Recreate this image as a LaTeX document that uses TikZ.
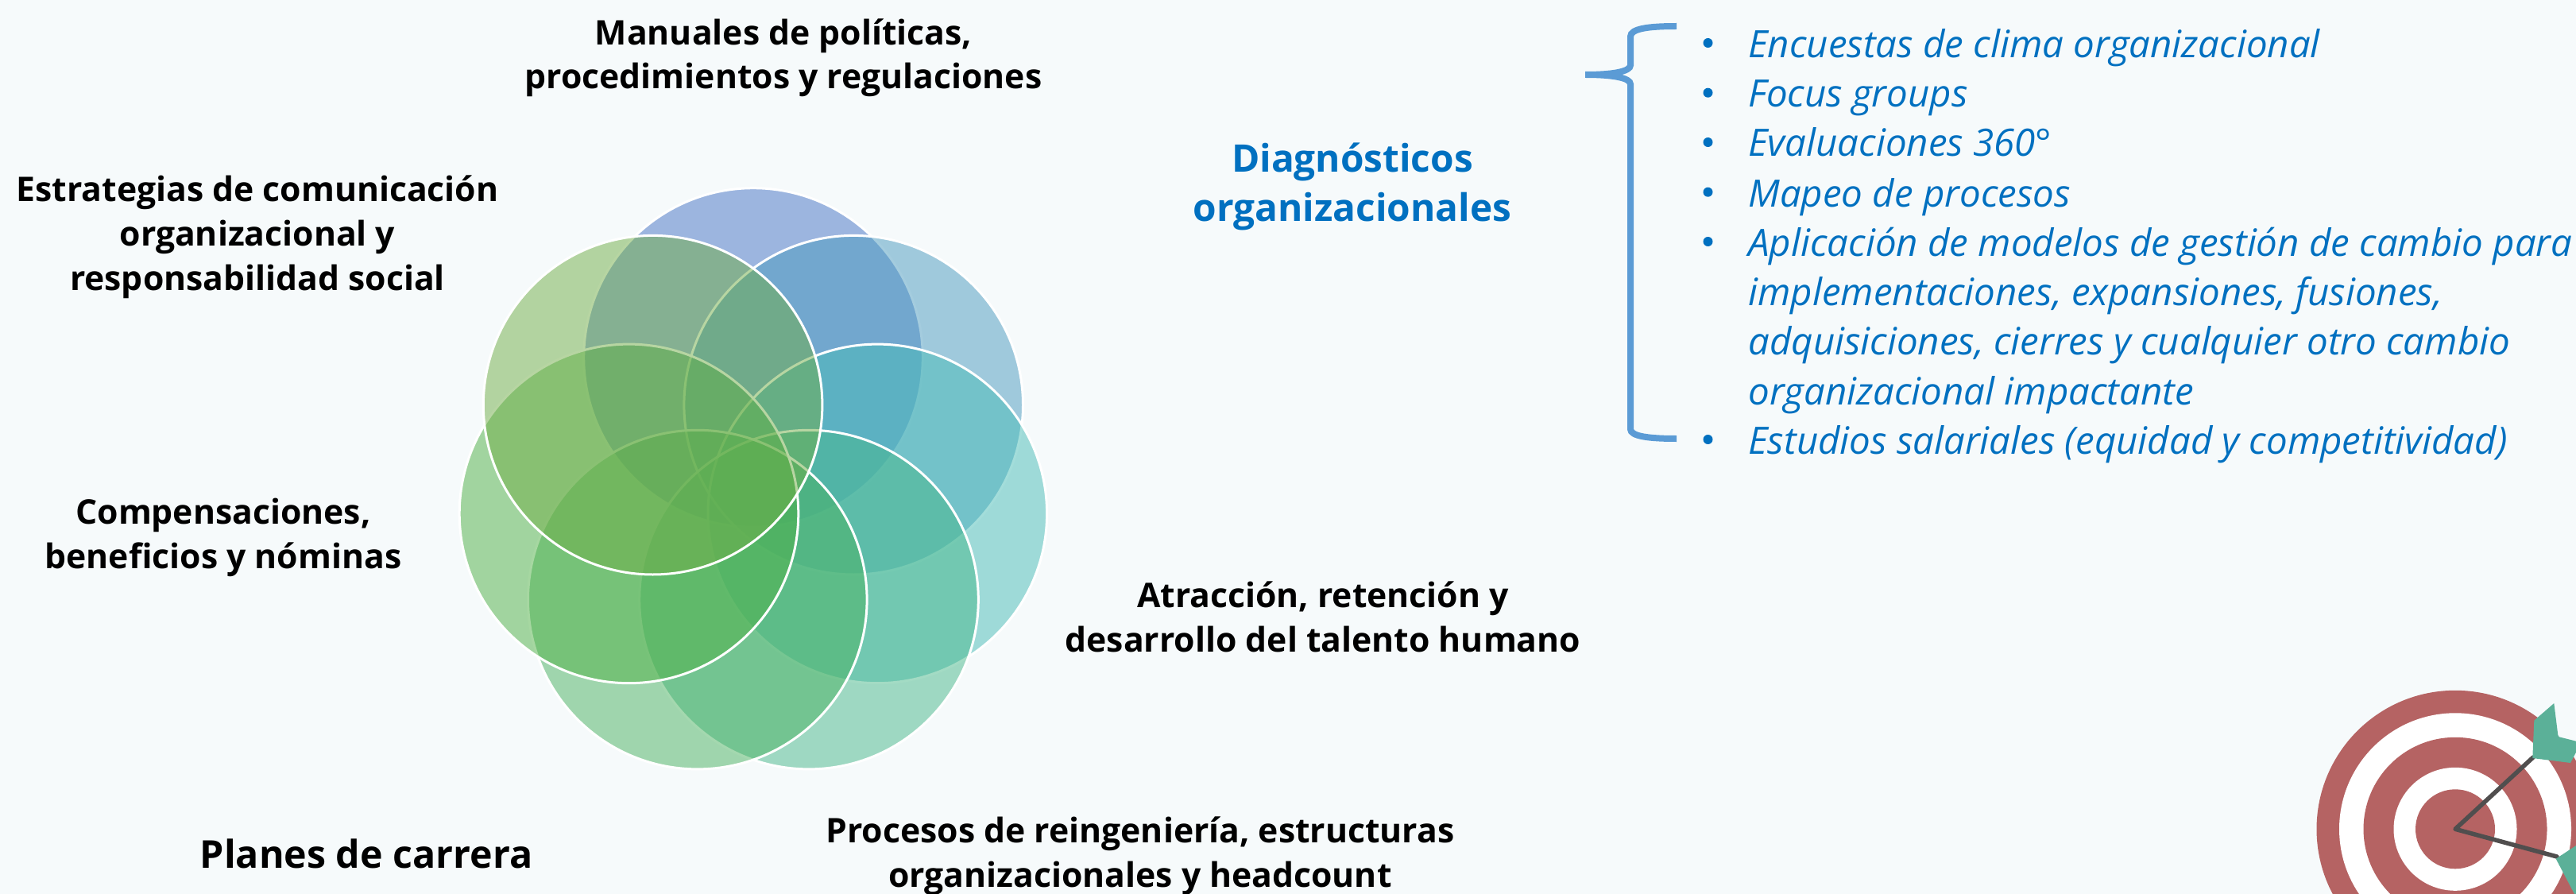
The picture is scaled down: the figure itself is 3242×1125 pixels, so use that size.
\documentclass[tikz,border=0pt]{standalone}
\usepackage{fontspec}
\setmainfont{Open Sans}
\definecolor{bgc}{HTML}{F6FAFB}
\definecolor{bluet}{HTML}{0070C0}
\definecolor{bracec}{HTML}{5B9BD5}
\definecolor{redt}{HTML}{B56363}
\definecolor{shaft}{HTML}{504E4E}
\definecolor{feather}{HTML}{5BB098}
\definecolor{ca}{HTML}{4472C4}
\definecolor{cb}{HTML}{4A9ABF}
\definecolor{cc}{HTML}{48BCB7}
\definecolor{cd}{HTML}{48B88B}
\definecolor{ce}{HTML}{4AB261}
\definecolor{cf}{HTML}{4EB045}
\definecolor{cg}{HTML}{70AD47}
\tikzset{
  x=0.02cm,y=-0.02cm,
  petal/.style={fill=#1,fill opacity=0.5,draw=white,draw opacity=1,line width=0.06cm},
  lab/.style={font=\fontsize{24.3}{31.7}\selectfont\bfseries,align=center,anchor=base,inner sep=0pt,text=black},
  diag/.style={font=\fontsize{27.2}{35.5}\selectfont\bfseries,align=center,anchor=base,inner sep=0pt,text=bluet},
  item/.style={font=\fontsize{27}{35.3}\selectfont\itshape,align=left,anchor=base west,inner sep=0pt,text=bluet},
  bul/.style={circle,fill=bluet,inner sep=0pt,minimum size=0.24cm},
}
\begin{document}
\begin{tikzpicture}
\useasboundingbox (0,0) rectangle (3242,1125);
\clip (0,0) rectangle (3242,1125);
\fill[bgc] (0,0) rectangle (3242,1125);
% circles
\path[petal=ca] (948,450) circle (213.3);
\path[petal=cb] (1074.2,509.7) circle (213.3);
\path[petal=cc] (1104.3,646.4) circle (213.3);
\path[petal=cd] (1018,754.6) circle (213.3);
\path[petal=ce] (877.8,754.6) circle (213.3);
\path[petal=cf] (791.5,646.4) circle (213.3);
\path[petal=cg] (821.6,509.7) circle (213.3);
% labels
\node[lab] (manuales) at (986,112) {Manuales de políticas,\\procedimientos y regulaciones};
\node[lab] (estrategias) at (324,365) {Estrategias de comunicación\\organizacional y\\responsabilidad social};
\node[lab] (compensaciones) at (281,715) {Compensaciones,\\beneficios y nóminas};
\node[lab] (atraccion) at (1665,820) {Atracción, retención y\\desarrollo del talento humano};
\node[lab] (procesos) at (1435,1116) {Procesos de reingeniería, estructuras\\organizacionales y headcount};
\node[lab,font=\fontsize{27.5}{31.7}\selectfont\bfseries] (planes) at (461,1092) {Planes de carrera};
\node[diag] (diagnosticos) at (1702,278.6) {Diagnósticos\\organizacionales};
% brace
\draw[bracec,line width=0.16cm] (2110,33) .. controls (2075,33) and (2052,36) .. (2052,46) -- (2052,82) .. controls (2052,90) and (2030,94) .. (1995,94) .. controls (2030,94) and (2052,98) .. (2052,106) -- (2052,540) .. controls (2052,549) and (2075,552) .. (2110,552);
% list
\node[item] (i1) at (2200,72.7) {Encuestas de clima organizacional};
\node[item] (i2) at (2200,135) {Focus groups};
\node[item] (i3) at (2200,197) {Evaluaciones 360°};
\node[item] (i4) at (2200,260) {Mapeo de procesos};
\node[item] (i5) at (2200,509) {Aplicación de modelos de gestión de cambio para\\implementaciones, expansiones, fusiones,\\adquisiciones, cierres y cualquier otro cambio\\organizacional impactante};
\node[item] (i6) at (2200,571.7) {Estudios salariales (equidad y competitividad)};
\foreach \yy/\nm in {54/b1,116.7/b2,179/b3,241.7/b4,304/b5,553/b6}{
  \node[bul] (\nm) at (2149.5,\yy) {};
}
% target
\foreach \rr/\cc in {174.5/redt,146/white,115.5/redt,77.5/white,50/redt}{
  \fill[\cc] (3090,1043.3) circle (\rr);
}
\coordinate (tc) at (3090,1043.3);
\coordinate (f1) at (3188,953);
\coordinate (f2) at (3218,1078);
\draw[shaft,line width=0.11cm,line cap=round,line join=round] (f1) -- (tc) -- (f2);
\fill[feather] (3214.3,885) -- (3219.3,925) -- (3220.7,927.3) -- (3242,932.7) -- (3242,946.7) -- (3235,960) -- (3187.3,954) -- (3189.3,906.7) -- cycle;
\fill[feather] (3216.7,1080.7) -- (3242,1064) -- (3242,1125) -- (3240,1125) -- cycle;
\end{tikzpicture}
\end{document}
